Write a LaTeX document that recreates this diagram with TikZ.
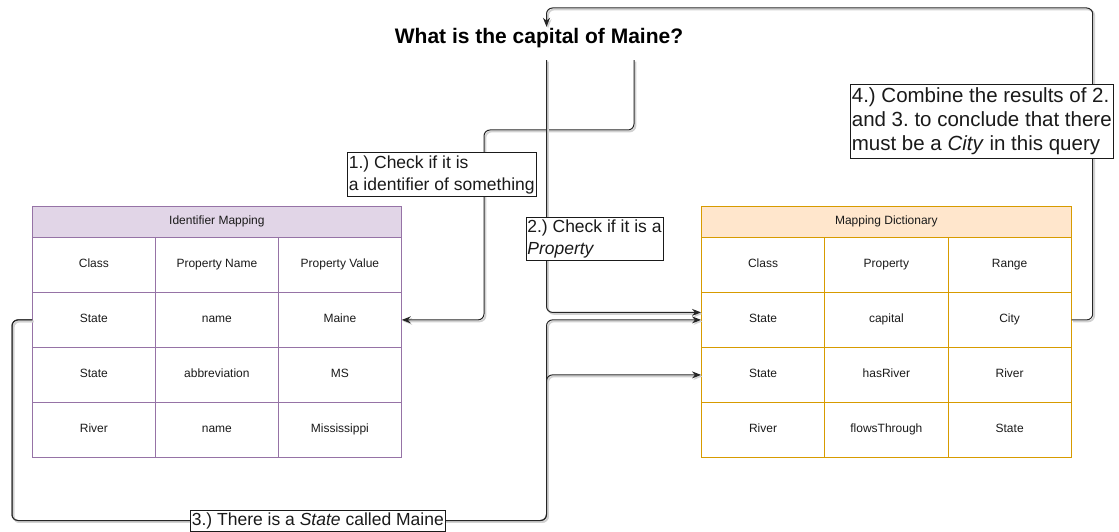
\documentclass[tikz,border=0pt]{standalone}
\usepackage{fontspec}
\setmainfont{Liberation Sans}
\usetikzlibrary{arrows.meta,calc}
\frenchspacing

\definecolor{idfill}{HTML}{E1D5E7}
\definecolor{idline}{HTML}{9673A6}
\definecolor{mdfill}{HTML}{FFE6CC}
\definecolor{mdline}{HTML}{D79B00}
\definecolor{ink}{HTML}{1A1A1A}

\tikzset{
  cell/.style={draw, line width=0.8pt, minimum width=123pt, minimum height=55pt,
    inner sep=0pt, text height=9pt, text depth=3pt, anchor=north west, text=ink,
    font=\fontsize{12}{14}\selectfont},
  headcell/.style={cell, minimum height=31pt},
  note/.style={draw=ink, line width=0.7pt, fill=white, align=left,
    inner xsep=1.5pt, inner ysep=2.5pt, text=ink, font=\fontsize{17.5}{22}\selectfont},
  link/.style={draw=black!85, line width=1pt, rounded corners=6pt,
    preaction={draw=black!18, line width=1.8pt,
      transform canvas={shift={(1.5pt,-1.5pt)}}}},
  tip/.style={-{Stealth[length=9pt,width=7pt]}},
}

\begin{document}
\begin{tikzpicture}[x=1pt,y=-1pt]
  \useasboundingbox (0,0) rectangle (1119,532);

  % question
  \node[inner sep=0pt, anchor=base, text height=17pt, text depth=16pt, text=black,
        font=\bfseries\fontsize{21}{25}\selectfont] (q) at (539,44)
        {What is the capital of Maine?};

  % identifier mapping table
  \node[headcell, minimum width=369pt, fill=idfill, draw=idline] (idm-h) at (32,206)
        {Identifier Mapping};
  \foreach \r/\a/\b/\c [count=\i] in {237/Class/Property Name/Property Value,
      292/State/name/Maine, 347/State/abbreviation/MS, 402/River/name/Mississippi} {
    \node[cell, draw=idline] (idm-\i1) at (32,\r) {\a};
    \node[cell, draw=idline] (idm-\i2) at (155,\r) {\b};
    \node[cell, draw=idline] (idm-\i3) at (278,\r) {\c};
  }

  % mapping dictionary table
  \node[headcell, minimum width=370pt, fill=mdfill, draw=mdline] (md-h) at (701,206)
        {Mapping Dictionary};
  \foreach \r/\a/\b/\c [count=\i] in {237/Class/Property/Range,
      292/State/capital/City, 347/State/hasRiver/River, 402/River/flowsThrough/State} {
    \node[cell, minimum width=123.3pt, draw=mdline] (md-\i1) at (701,\r) {\a};
    \node[cell, minimum width=123.3pt, draw=mdline] (md-\i2) at (824.3,\r) {\b};
    \node[cell, minimum width=123.3pt, draw=mdline] (md-\i3) at (947.6,\r) {\c};
  }

  % step 1: look for an identifier
  \draw[link,tip] ($(q.south)+(95,0)$) |- (484,130) |- (idm-23.east);
  % step 2: look for a property
  \draw[link,tip] ($(q.south)+(7.5,0)$) |- ($(md-21.west)+(0,-7.5)$);
  % step 3: the identified state feeds both State rows
  \draw[link,tip] (idm-21.west) -- ++(-20,0) |- (546.5,520.5) |- (md-21.west);
  \draw[link,tip] (idm-21.west) -- ++(-20,0) |- (546.5,520.5) |- (md-31.west);
  % step 4: back to the question
  \draw[link,tip] (md-23.east) -- ++(21,0) |- (546.5,8) -- ($(q.north)+(7.5,0)$);

  % step labels
  \node[note, anchor=north west] (n1) at (347,152.5)
        {1.) Check if it is\\a identifier of something};
  \node[note, anchor=north west] (n2) at (525.5,216.5)
        {2.) Check if it is a\\\textit{Property}};
  \node[note, anchor=west] (n3) at (190,520.5)
        {3.) There is a \textit{State} called Maine};
  \node[note, anchor=north west, inner ysep=3.5pt,
        font=\fontsize{20.5}{24}\selectfont] (n4) at (850,84)
        {4.) Combine the results of 2.\\and 3. to conclude that there\\must be a \textit{City} in this query};
\end{tikzpicture}
\end{document}
